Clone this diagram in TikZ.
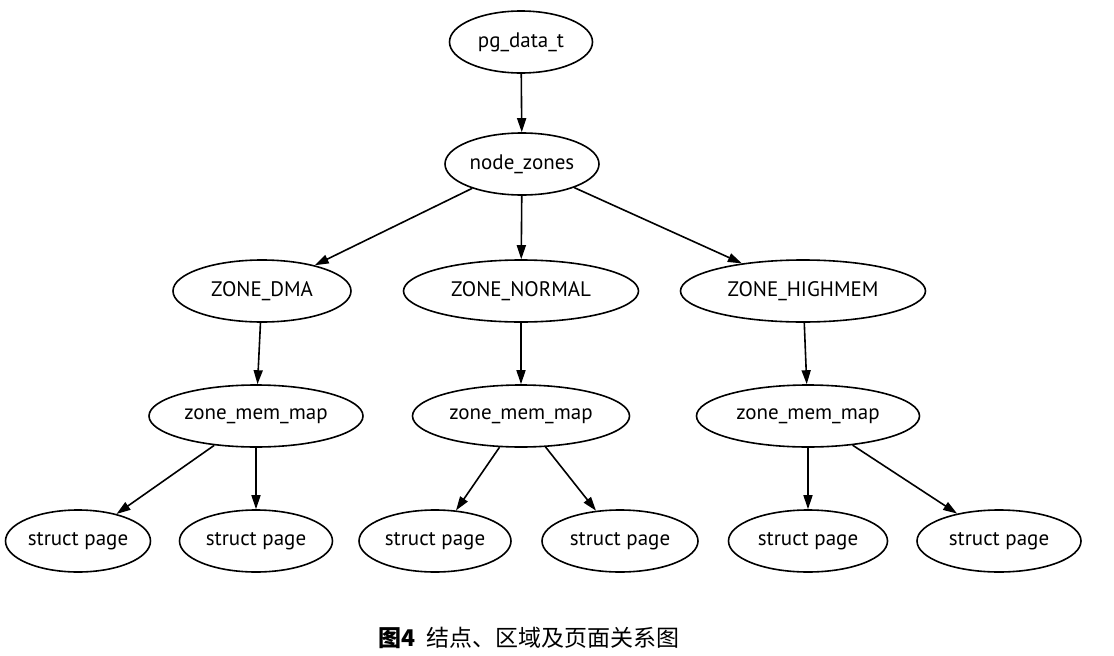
\documentclass[tikz,border=0pt]{standalone}
\usepackage{fontspec}
\setmainfont{PT Sans}
\newfontfamily\cjk{Noto Sans CJK SC}
\usetikzlibrary{arrows.meta,shapes.geometric}

\begin{document}
\begin{tikzpicture}[x=1pt,y=-1pt,font=\fontsize{21}{25}\selectfont,
  oval/.style={draw,ellipse,line width=1.6pt,minimum height=62pt,inner sep=0pt},
  link/.style={line width=1.6pt,-{Triangle[length=14pt,width=9pt]}}]
\useasboundingbox (0,0) rectangle (1114,656);
\node[oval,minimum width=143pt] (pg) at (521,42) {pg\_data\_t};
\node[oval,minimum width=154pt] (nz) at (522,164) {node\_zones};
\node[oval,minimum width=178pt] (dma) at (262,291) {ZONE\_DMA};
\node[oval,minimum width=235pt] (normal) at (521,291) {ZONE\_NORMAL};
\node[oval,minimum width=245pt] (high) at (803,291) {ZONE\_HIGHMEM};
\node[oval,minimum width=214pt] (map1) at (256,416) {zone\_mem\_map};
\node[oval,minimum width=217pt] (map2) at (521,416) {zone\_mem\_map};
\node[oval,minimum width=223pt] (map3) at (808,416) {zone\_mem\_map};
\node[oval,minimum width=145pt] (p1) at (78,541) {struct page};
\node[oval,minimum width=153pt] (p2) at (256,541) {struct page};
\node[oval,minimum width=152pt] (p3) at (435,541) {struct page};
\node[oval,minimum width=156pt] (p4) at (620,541) {struct page};
\node[oval,minimum width=159pt] (p5) at (808,541) {struct page};
\node[oval,minimum width=164pt] (p6) at (999,541) {struct page};
\node[font=\cjk\fontsize{23}{27}\selectfont] (cap) at (529,638) {\textbf{图4}\hspace{0.5em}结点、区域及页面关系图};
\draw[link] (pg) -- (nz);
\draw[link] (nz) -- (dma);
\draw[link] (nz) -- (normal);
\draw[link] (nz) -- (high);
\draw[link] (dma) -- (map1);
\draw[link] (normal) -- (map2);
\draw[link] (high) -- (map3);
\draw[link] (map1) -- (p1);
\draw[link] (map1) -- (p2);
\draw[link] (map2) -- (p3);
\draw[link] (map2) -- (p4);
\draw[link] (map3) -- (p5);
\draw[link] (map3) -- (p6);
\end{tikzpicture}
\end{document}
